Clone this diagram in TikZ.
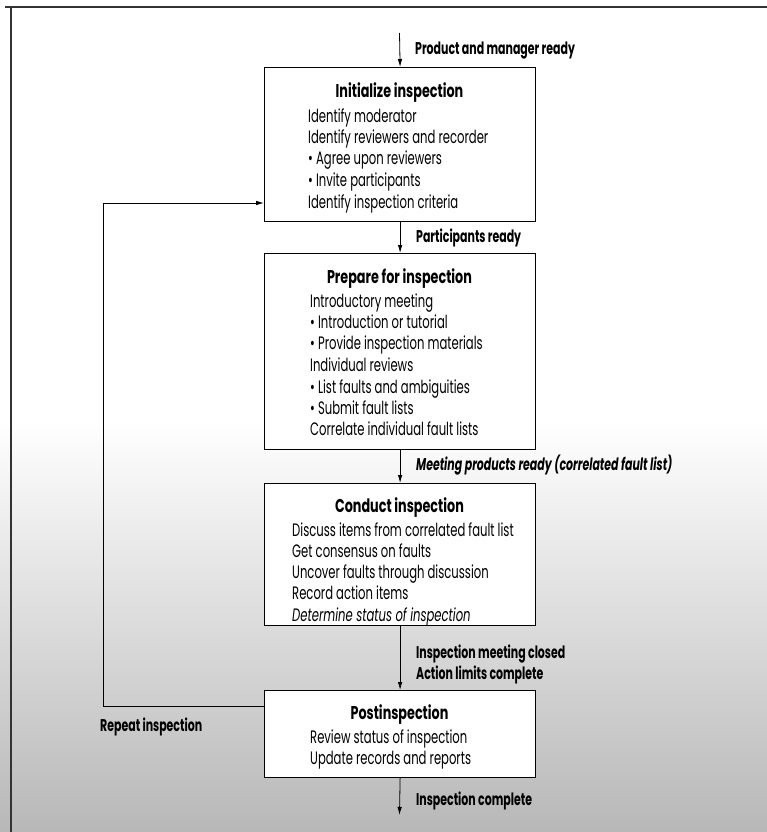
\documentclass[tikz,border=0pt]{standalone}
\usepackage{fontspec}
\setmainfont{Poppins}[FakeStretch=0.645]
\newfontfamily\ttlfont{Poppins}[FakeStretch=0.69]
\usetikzlibrary{arrows.meta}
\tikzset{
  box/.style={draw=black, line width=1.2pt, fill=white, anchor=north west, inner sep=0pt},
  ttl/.style={anchor=base, inner sep=0pt, font=\ttlfont\fontsize{18.5}{20}\selectfont\bfseries},
  itm/.style={anchor=base west, inner sep=0pt, font=\fontsize{18}{20}\selectfont},
  lbl/.style={anchor=base west, inner sep=0pt, font=\fontsize{17}{20}\selectfont\bfseries},
  arr/.style={draw=black, line width=0.8pt, -{Latex[length=8pt,width=4.5pt]}},
  frame/.style={draw=black!80, line width=1.3pt}
}
\begin{document}
\begin{tikzpicture}[x=1pt,y=-1pt]
\useasboundingbox (0,0) rectangle (767,832);
\fill[white] (0,0) rectangle (767,832);
\shade[top color=white, bottom color=black!28] (0,420) rectangle (767,832);
\draw[frame] (5,7) -- (767,7);
\draw[frame] (11,7) -- (11,832);

% boxes
\node[box, minimum width=271pt, minimum height=154pt] (b1) at (264,67) {};
\node[box, minimum width=271pt, minimum height=196pt] (b2) at (264,253) {};
\node[box, minimum width=271pt, minimum height=142pt] (b3) at (264,483) {};
\node[box, minimum width=271pt, minimum height=87pt] (b4) at (264,690) {};

% box 1
\node[ttl] (t1) at (399.5,98) {Initialize inspection};
\node[itm] (b1a) at (308,122) {Identify moderator};
\node[itm] (b1b) at (308,143) {Identify reviewers and recorder};
\node[itm] (b1c) at (308,164) {• Agree upon reviewers};
\node[itm] (b1d) at (308,186) {• Invite participants};
\node[itm] (b1e) at (308,208) {Identify inspection criteria};

% box 2
\node[ttl] (t2) at (399.5,283) {Prepare for inspection};
\node[itm] (b2a) at (310,307) {Introductory meeting};
\node[itm] (b2b) at (310,328) {• Introduction or tutorial};
\node[itm] (b2c) at (310,349) {• Provide inspection materials};
\node[itm] (b2d) at (310,371) {Individual reviews};
\node[itm] (b2e) at (310,393) {• List faults and ambiguities};
\node[itm] (b2f) at (310,414) {• Submit fault lists};
\node[itm] (b2g) at (310,435) {Correlate individual fault lists};

% box 3
\node[ttl] (t3) at (399.5,512) {Conduct inspection};
\node[itm] (b3a) at (292,536) {Discuss items from correlated fault list};
\node[itm] (b3b) at (292,557) {Get consensus on faults};
\node[itm] (b3c) at (292,578) {Uncover faults through discussion};
\node[itm] (b3d) at (292,599) {Record action items};
\node[itm] (b3e) at (292,621) {\itshape Determine status of inspection};

% box 4
\node[ttl] (t4) at (399.5,719) {Postinspection};
\node[itm] (b4a) at (310,743) {Review status of inspection};
\node[itm] (b4b) at (310,764) {Update records and reports};

% connectors
\coordinate (start) at (399.5,33);
\coordinate (finish) at (399.5,815);
\draw[arr] (start) -- (b1.north);
\draw[arr] (b1.south) -- (b2.north);
\draw[arr] (b2.south) -- (b3.north);
\draw[arr] (b3.south) -- (b4.north);
\draw[arr] (b4.south) -- (finish);

\coordinate (loopB) at (103,706);
\coordinate (loopT) at (103,203);
\draw[arr] (loopB -| b4.west) -- (loopB) -- (loopT) -- (loopT -| b1.west);

% labels
\node[lbl] (l1) at (415,55) {Product and manager ready};
\node[lbl] (l2) at (416,242) {Participants ready};
\node[lbl, font=\fontsize{17}{20}\selectfont\bfseries\itshape] (l3) at (416,470) {Meeting products ready (correlated fault list)};
\node[lbl] (l4) at (416,658) {Inspection meeting closed};
\node[lbl] (l5) at (416,679) {Action limits complete};
\node[lbl] (l6) at (416,805) {Inspection complete};
\node[lbl] (l7) at (100,731) {Repeat inspection};
\end{tikzpicture}
\end{document}
